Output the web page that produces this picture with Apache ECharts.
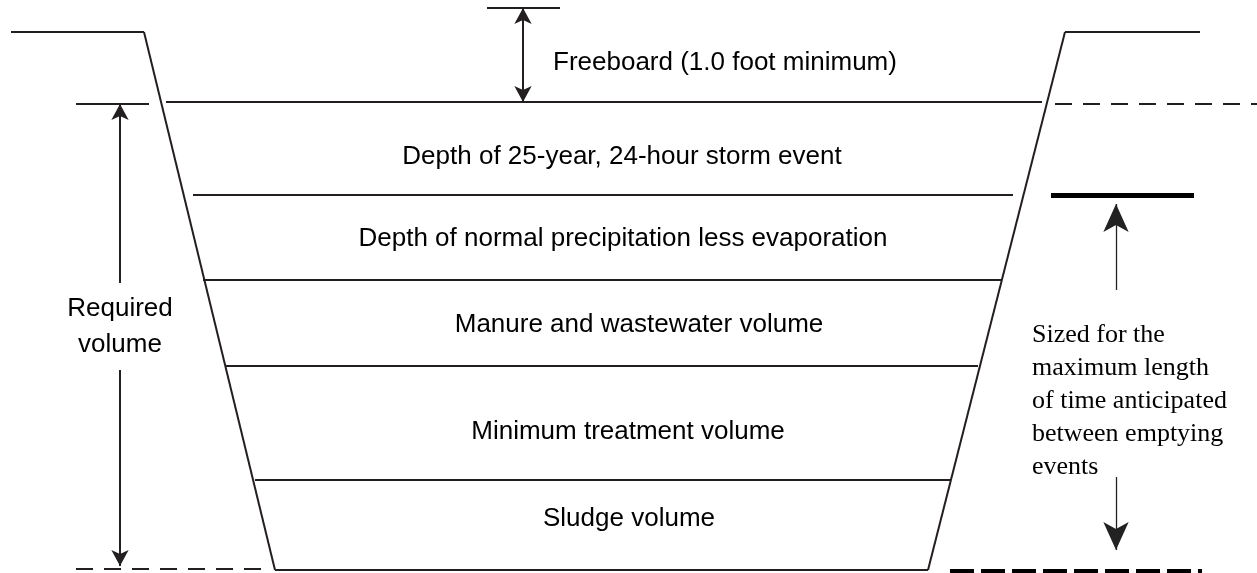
<!DOCTYPE html>
<html lang="en">
<head>
    <meta charset="UTF-8">
    <title>lagoon-volume</title>
    <script src="https://cdn.jsdelivr.net/npm/echarts@6/dist/echarts.min.js"></script>
    <style>
        body { margin: 0; background: #fff; }
        #main { width: 1257px; height: 573px; }
    </style>
</head>
<body>
    <div id="main"></div>
    <script>
        // cross-section of the pond (x across, y = depth from top)
        var profileX = [11, 144, 275, 928, 1065, 1200];
        var profileY = [32, 32, 570, 570, 32, 32];

        // level lines inside the pond
        var layerY = [102, 195, 280, 366, 480];
        var layerStartX = [166, 193, 203, 226, 255];
        var layerEndX = [1042, 1013, 1002, 978, 950];

        var layerNames = [
            "Depth of 25-year, 24-hour storm event",
            "Depth of normal precipitation less evaporation",
            "Manure and wastewater volume",
            "Minimum treatment volume",
            "Sludge volume"
        ];
        var layerNameX = [622, 623, 639, 628, 629];
        var layerNameY = [157, 239, 325, 432, 519];

        var freeboardText = "Freeboard (1.0 foot minimum)";
        var requiredText = "Required\nvolume";
        var sizedText = "Sized for the\nmaximum length\nof time anticipated\nbetween emptying\nevents";

        var ink = "#231f20";

        var chart = echarts.init(document.getElementById("main"));

        function seg(x1, y1, x2, y2) {
            return { coords: [[x1, y1], [x2, y2]] };
        }

        var profileData = [];
        for (var i = 0; i < profileX.length - 1; i++) {
            profileData.push(seg(profileX[i], profileY[i], profileX[i + 1], profileY[i + 1]));
        }

        var levelData = layerY.map(function (y, i) {
            return seg(layerStartX[i], y, layerEndX[i], y);
        });
        // short ticks at the freeboard and the top of the required volume
        levelData.push(seg(487, 8, 560, 8));
        levelData.push(seg(76, 104, 149, 104));

        var textData = layerNames.map(function (n, i) {
            return { value: [layerNameX[i], layerNameY[i], n] };
        });
        textData.push({ value: [553, 63, freeboardText], label: { align: "left" } });
        textData.push({ value: [120, 327, requiredText], label: { lineHeight: 36 } });
        textData.push({
            value: [1032, 401, sizedText],
            label: { align: "left", lineHeight: 33, fontFamily: "Liberation Serif" }
        });

        var option = {
            animation: false,
            backgroundColor: "#fff",
            grid: { left: 0, right: 0, top: 0, bottom: 0 },
            xAxis: { type: "value", min: 0, max: 1257, show: false },
            yAxis: { type: "value", min: 0, max: 573, inverse: true, show: false },
            series: [
                {
                    type: "lines",
                    coordinateSystem: "cartesian2d",
                    symbol: "none",
                    lineStyle: { color: ink, width: 2, opacity: 1 },
                    data: profileData.concat(levelData)
                },
                {
                    // thin dashed extensions
                    type: "lines",
                    coordinateSystem: "cartesian2d",
                    symbol: "none",
                    lineStyle: { color: ink, width: 2, opacity: 1, type: [17, 11] },
                    data: [seg(1055, 104, 1257, 104), seg(76, 569, 262, 569)]
                },
                {
                    // heavy marks on the right
                    type: "lines",
                    coordinateSystem: "cartesian2d",
                    symbol: "none",
                    lineStyle: { color: "#000", width: 5, opacity: 1 },
                    data: [seg(1051, 195, 1194, 195)]
                },
                {
                    type: "lines",
                    coordinateSystem: "cartesian2d",
                    symbol: "none",
                    lineStyle: { color: "#000", width: 4, opacity: 1, type: [24, 7] },
                    data: [seg(950, 571, 1202, 571)]
                },
                {
                    // freeboard double arrow
                    type: "lines",
                    coordinateSystem: "cartesian2d",
                    symbol: ["arrow", "arrow"],
                    symbolSize: [[13, 16], [13, 16]],
                    lineStyle: { color: ink, width: 2, opacity: 1 },
                    data: [seg(523, 8, 523, 102)]
                },
                {
                    // required volume arrow, broken around the text
                    type: "lines",
                    coordinateSystem: "cartesian2d",
                    symbol: ["none", "arrow"],
                    symbolSize: [[13, 16], [13, 16]],
                    lineStyle: { color: ink, width: 2, opacity: 1 },
                    data: [seg(120, 283, 120, 104), seg(120, 370, 120, 566)]
                },
                {
                    // sizing arrows on the right
                    type: "lines",
                    coordinateSystem: "cartesian2d",
                    symbol: ["none", "arrow"],
                    symbolSize: [[19, 28], [19, 28]],
                    lineStyle: { color: "#222", width: 1.3, opacity: 1 },
                    data: [seg(1116, 290, 1116, 204), seg(1116, 477, 1116, 550)]
                },
                {
                    type: "scatter",
                    symbolSize: 0,
                    silent: true,
                    itemStyle: { opacity: 1 },
                    label: {
                        show: true,
                        position: "inside",
                        formatter: function (p) { return p.value[2]; },
                        color: "#000",
                        opacity: 1,
                        fontFamily: "Liberation Sans",
                        fontSize: 26,
                        align: "center",
                        verticalAlign: "middle"
                    },
                    data: textData
                }
            ]
        };

        chart.setOption(option);
    </script>
</body>
</html>
